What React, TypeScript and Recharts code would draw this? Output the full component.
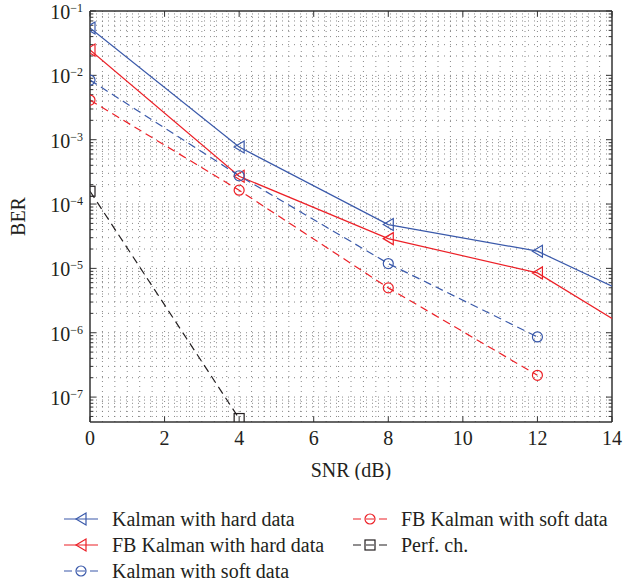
import { Line, LineChart, ReferenceLine, XAxis, YAxis } from "recharts";

const FONT = '"Liberation Serif", "DejaVu Serif", serif';
const BLUE = "#3a59aa";
const RED = "#ec2027";
const BLACK = "#231f20";
const GRID = "#7a7a7a";

// SNR (dB) sample points
const snr = [0, 4, 8, 12, 14];
// BER per curve (null = no sample)
const kalmanHard = [0.0544, 7.7e-4, 4.8e-5, 1.85e-5, 5.3e-6];
const fbKalmanHard = [0.0247, 2.7e-4, 2.9e-5, 8.5e-6, 1.66e-6];
const kalmanSoft = [8.45e-3, 2.75e-4, 1.19e-5, 8.6e-7, null];
const fbKalmanSoft = [4.13e-3, 1.64e-4, 4.98e-6, 2.18e-7, null];
const perfCh = [1.58e-4, 4.64e-8, null, null, null];

const xTicks = [0, 2, 4, 6, 8, 10, 12, 14];
const yTicks = [1e-7, 1e-6, 1e-5, 1e-4, 1e-3, 1e-2, 1e-1];
const Y_MIN = 4.1e-8;
const Y_MAX = 0.1;
const X_MAX = 14;
// markers are only drawn at the simulated points
const MARKER_MAX_X = 12;

type Shape = "tri" | "circ" | "sq";

const series: {
  key: string;
  name: string;
  color: string;
  shape: Shape;
  dashed: boolean;
  values: (number | null)[];
}[] = [
  { key: "kh", name: "Kalman with hard data", color: BLUE, shape: "tri", dashed: false, values: kalmanHard },
  { key: "fh", name: "FB Kalman with hard data", color: RED, shape: "tri", dashed: false, values: fbKalmanHard },
  { key: "ks", name: "Kalman with soft data", color: BLUE, shape: "circ", dashed: true, values: kalmanSoft },
  { key: "fs", name: "FB Kalman with soft data", color: RED, shape: "circ", dashed: true, values: fbKalmanSoft },
  { key: "pc", name: "Perf. ch.", color: BLACK, shape: "sq", dashed: true, values: perfCh },
];

const data = snr.map((x, i) => {
  const row: Record<string, number | null> = { snr: x };
  series.forEach((s) => (row[s.key] = s.values[i]));
  return row;
});

// minor grid positions (MATLAB style)
const xGrid: number[] = [];
for (let k = 1; k < 42; k++) xGrid.push((k * 2) / 6);
const yGrid: number[] = [];
const yMinor: number[] = [];
for (let d = -8; d <= -2; d++) {
  for (let m = 1; m <= 9; m++) {
    const v = m * Math.pow(10, d);
    if (v > Y_MIN && v < Y_MAX) {
      yGrid.push(v);
      if (m > 1) yMinor.push(v);
    }
  }
}

function Marker({ shape, cx, cy, color }: { shape: Shape; cx: number; cy: number; color: string }) {
  if (shape === "tri") {
    return (
      <polygon
        points={`${cx - 5},${cy} ${cx + 5},${cy - 6} ${cx + 5},${cy + 6}`}
        fill="none"
        stroke={color}
        strokeWidth={1.2}
      />
    );
  }
  if (shape === "circ") {
    return <circle cx={cx} cy={cy} r={5} fill="none" stroke={color} strokeWidth={1.2} />;
  }
  return <rect x={cx - 5} y={cy - 5} width={10} height={10} fill="none" stroke={color} strokeWidth={1.2} />;
}

const makeDot = (shape: Shape, color: string) => (props: any) => {
  const { cx, cy, payload, index, value } = props;
  if (cx == null || cy == null || value == null || payload.snr > MARKER_MAX_X) {
    return <g key={`e-${index}`} />;
  }
  return (
    <g key={`m-${index}`}>
      <Marker shape={shape} cx={cx} cy={cy} color={color} />
    </g>
  );
};

function YTick({ x, y, payload }: any) {
  const exp = Math.round(Math.log10(payload.value));
  return (
    <text x={x} y={y} textAnchor="end" fontFamily={FONT} fill={BLACK}>
      <tspan fontSize={20} dy={8}>10</tspan>
      <tspan fontSize={12} dy={-7}>{`\u2212${Math.abs(exp)}`}</tspan>
    </text>
  );
}

function LegendBox() {
  const rows: { s: (typeof series)[number]; x: number; y: number }[] = [
    { s: series[0], x: 64, y: 39 },
    { s: series[1], x: 64, y: 65 },
    { s: series[2], x: 64, y: 91 },
    { s: series[3], x: 353, y: 39 },
    { s: series[4], x: 353, y: 65 },
  ];
  return (
    <svg width={623} height={106} style={{ display: "block", overflow: "visible" }}>
      {rows.map(({ s, x, y }) => (
        <g key={s.key}>
          <line
            x1={x}
            x2={x + 34}
            y1={y}
            y2={y}
            stroke={s.color}
            strokeWidth={1.2}
            strokeDasharray={s.dashed ? "8 5" : undefined}
          />
          <Marker shape={s.shape} cx={x + 17} cy={y} color={s.color} />
          <text
            x={x + 48}
            y={y}
            dominantBaseline="central"
            fontFamily={FONT}
            fontSize={20}
            fill={BLACK}
          >
            {s.name}
          </text>
        </g>
      ))}
    </svg>
  );
}

export default function App() {
  return (
    <div style={{ position: "absolute", left: 0, top: 0, width: 623, height: 586, background: "#fff" }}>
      <LineChart
        width={623}
        height={480}
        data={data}
        margin={{ top: 11, right: 11, bottom: 0, left: 0 }}
      >
        <XAxis
          dataKey="snr"
          type="number"
          domain={[0, X_MAX]}
          ticks={xTicks}
          allowDataOverflow
          height={58}
          tickSize={0}
          tickMargin={9}
          tick={{ fontSize: 20, fontFamily: FONT, fill: BLACK }}
          axisLine={{ stroke: "#333", strokeWidth: 1.5 }}
          label={{
            position: "insideBottom",
            content: ({ viewBox }: any) => (
              <text
                x={viewBox.x + viewBox.width / 2}
                y={viewBox.y + 48}
                textAnchor="middle"
                dominantBaseline="central"
                fontFamily={FONT}
                fontSize={20}
                fill={BLACK}
              >
                SNR (dB)
              </text>
            ),
          }}
        />
        <YAxis
          scale="log"
          domain={[Y_MIN, Y_MAX]}
          ticks={yTicks}
          allowDataOverflow
          width={90}
          tickSize={0}
          tickMargin={7}
          tick={<YTick />}
          axisLine={{ stroke: "#333", strokeWidth: 1.5 }}
          label={{
            position: "insideLeft",
            content: ({ viewBox }: any) => (
              <text
                x={viewBox.x + 18}
                y={viewBox.y + viewBox.height / 2}
                textAnchor="middle"
                dominantBaseline="central"
                transform={`rotate(-90 ${viewBox.x + 18} ${viewBox.y + viewBox.height / 2})`}
                fontFamily={FONT}
                fontSize={20}
                fill={BLACK}
              >
                BER
              </text>
            ),
          }}
        />

        {/* dotted grid */}
        {xGrid.map((v) => (
          <ReferenceLine key={`gx${v}`} x={v} stroke={GRID} strokeWidth={0.9} strokeDasharray="1 4" />
        ))}
        {yGrid.map((v) => (
          <ReferenceLine key={`gy${v}`} y={v} stroke={GRID} strokeWidth={0.9} strokeDasharray="1 5" />
        ))}

        {/* inward ticks, box style */}
        {yTicks.map((v) => (
          <ReferenceLine key={`tl${v}`} segment={[{ x: 0, y: v }, { x: 0.16, y: v }]} stroke="#333" />
        ))}
        {yTicks.map((v) => (
          <ReferenceLine key={`tr${v}`} segment={[{ x: X_MAX - 0.16, y: v }, { x: X_MAX, y: v }]} stroke="#333" />
        ))}
        {yMinor.map((v) => (
          <ReferenceLine key={`ml${v}`} segment={[{ x: 0, y: v }, { x: 0.09, y: v }]} stroke="#333" />
        ))}
        {yMinor.map((v) => (
          <ReferenceLine key={`mr${v}`} segment={[{ x: X_MAX - 0.09, y: v }, { x: X_MAX, y: v }]} stroke="#333" />
        ))}
        {xTicks.map((v) => (
          <ReferenceLine key={`tb${v}`} segment={[{ x: v, y: Y_MIN }, { x: v, y: Y_MIN * 1.22 }]} stroke="#333" />
        ))}
        {xTicks.map((v) => (
          <ReferenceLine key={`tt${v}`} segment={[{ x: v, y: Y_MAX / 1.22 }, { x: v, y: Y_MAX }]} stroke="#333" />
        ))}
        <ReferenceLine y={Y_MAX} stroke="#333" strokeWidth={1.5} />
        <ReferenceLine x={X_MAX} stroke="#333" strokeWidth={1.5} />

        {series.map((s) => (
          <Line
            key={s.key}
            dataKey={s.key}
            name={s.name}
            type="linear"
            stroke={s.color}
            strokeWidth={1.2}
            strokeDasharray={s.dashed ? "8 5" : undefined}
            dot={makeDot(s.shape, s.color)}
            activeDot={false}
            isAnimationActive={false}
          />
        ))}
      </LineChart>
      <LegendBox />
    </div>
  );
}
